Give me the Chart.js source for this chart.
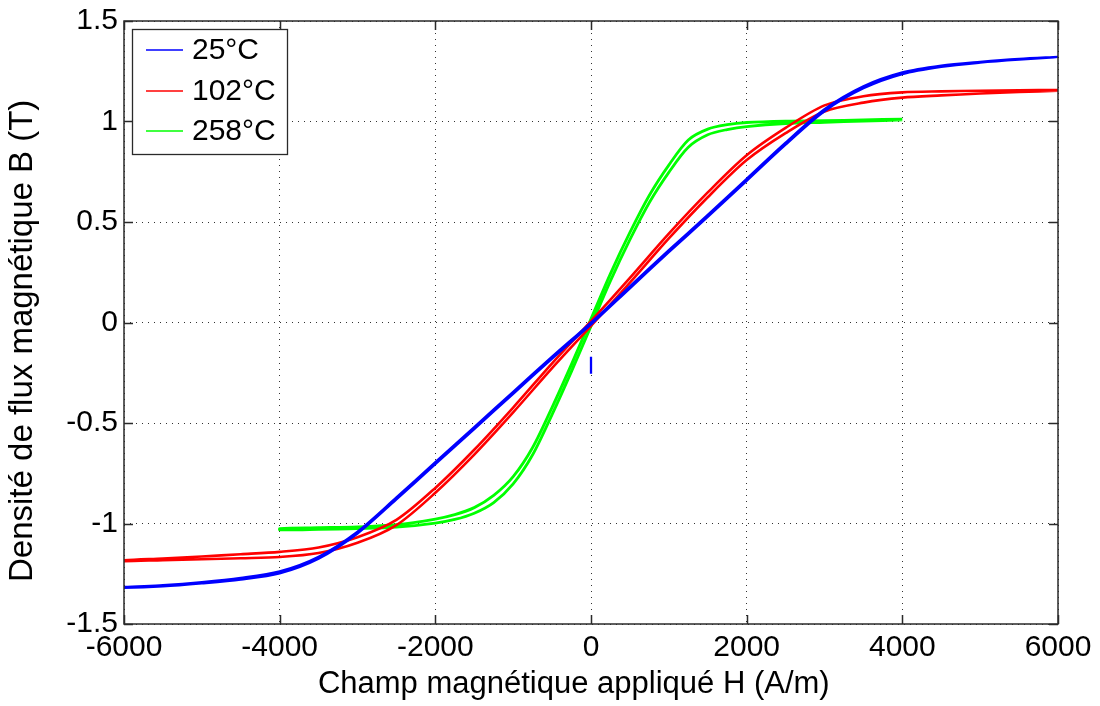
<!DOCTYPE html>
<html>
<head>
<meta charset="utf-8">
<script src="https://cdn.jsdelivr.net/npm/chart.js@4.4.1/dist/chart.umd.min.js"></script>
<style>
html,body{margin:0;padding:0;background:#fff;overflow:hidden;}
canvas{display:block;}
</style>
</head>
<body>
<canvas id="c" width="1100" height="706"></canvas>
<script>
// ---------- data ----------
const seriesLabels = ['25°C', '102°C', '258°C'];
const seriesColors = ['#0000ff', '#ff0000', '#00ff00'];

const xTickValues = [-6000, -4000, -2000, 0, 2000, 4000, 6000];
const yTickValues = [-1.5, -1, -0.5, 0, 0.5, 1, 1.5];

// 25°C
const H25 = [-6000,-5500,-5000,-4500,-4000,-3500,-3000,-2500,-2000,-1500,-1000,-500,0,500,1000,1500,2000,2500,3000,3500,4000,4500,5000,5500,6000];
const B25down = [-1.316,-1.307,-1.292,-1.271,-1.238,-1.165,-1.040,-0.870,-0.695,-0.520,-0.345,-0.170,0.000,0.180,0.360,0.535,0.715,0.895,1.061,1.175,1.244,1.278,1.297,1.312,1.322];
const B25up   = [-1.320,-1.313,-1.298,-1.279,-1.248,-1.175,-1.050,-0.880,-0.705,-0.530,-0.355,-0.180,-0.010,0.170,0.350,0.525,0.705,0.885,1.051,1.165,1.236,1.272,1.293,1.308,1.320];
const H25spike = [0, 0];
const B25spike = [-0.17, -0.255];

// 102°C
const H102 = [-6000,-5500,-5000,-4500,-4000,-3500,-3000,-2500,-2000,-1500,-1000,-500,0,500,1000,1500,2000,2500,3000,3500,4000,4500,5000,5500,6000];
const B102down = [-1.183,-1.174,-1.164,-1.153,-1.141,-1.119,-1.068,-0.982,-0.823,-0.633,-0.423,-0.203,0.007,0.222,0.442,0.647,0.832,0.968,1.080,1.126,1.145,1.150,1.153,1.155,1.157];
const B102up   = [-1.187,-1.182,-1.178,-1.173,-1.167,-1.147,-1.096,-1.008,-0.847,-0.657,-0.447,-0.227,-0.017,0.198,0.418,0.623,0.808,0.942,1.050,1.094,1.119,1.130,1.139,1.147,1.153];

// 258°C
const H258 = [-4000,-3500,-3000,-2500,-2000,-1750,-1500,-1250,-1000,-750,-500,-250,0,250,500,750,1000,1250,1500,1750,2000,2500,3000,3500,4000];
const B258down = [-1.025,-1.021,-1.017,-1.006,-0.978,-0.956,-0.921,-0.860,-0.767,-0.622,-0.422,-0.207,0.018,0.243,0.448,0.633,0.783,0.908,0.962,0.984,0.995,1.002,1.004,1.008,1.012];
const B258up   = [-1.031,-1.029,-1.025,-1.018,-0.998,-0.980,-0.949,-0.896,-0.803,-0.658,-0.458,-0.243,-0.018,0.207,0.412,0.597,0.747,0.872,0.934,0.960,0.975,0.990,0.996,1.002,1.008];

const xTitle = 'Champ magnétique appliqué H (A/m)';
const yTitle = 'Densité de flux magnétique B (T)';

// ---------- build loops ----------
function loop(H, down, up) {
  const pts = [];
  for (let i = H.length - 1; i >= 0; i--) pts.push({x: H[i], y: down[i]});
  for (let i = 0; i < H.length; i++) pts.push({x: H[i], y: up[i]});
  return pts;
}
const d25 = loop(H25, B25down, B25up);
d25.push({x: 0, y: null});
for (let i = 0; i < H25spike.length; i++) d25.push({x: H25spike[i], y: B25spike[i]});

const FONT = '"Liberation Sans", Arial, Helvetica, sans-serif';
const AX = '#2a2a2a';

const boxPlugin = {
  id: 'matlabBox',
  afterDraw(chart) {
    const {ctx, chartArea: a, scales} = chart;
    ctx.save();
    // inward ticks
    ctx.strokeStyle = AX;
    ctx.lineWidth = 1.5;
    const tl = 9;
    ctx.beginPath();
    xTickValues.forEach(v => {
      const px = Math.round(scales.x.getPixelForValue(v)) + 0.5;
      ctx.moveTo(px, a.bottom); ctx.lineTo(px, a.bottom - tl);
      ctx.moveTo(px, a.top); ctx.lineTo(px, a.top + tl);
    });
    yTickValues.forEach(v => {
      const py = Math.round(scales.y.getPixelForValue(v)) + 0.5;
      ctx.moveTo(a.left, py); ctx.lineTo(a.left + tl, py);
      ctx.moveTo(a.right, py); ctx.lineTo(a.right - tl, py);
    });
    ctx.stroke();
    // box
    ctx.strokeRect(a.left, a.top, a.right - a.left, a.bottom - a.top);

    // legend box
    const lx = a.left + 8, ly = a.top + 8, lw = 155, lh = 125;
    ctx.fillStyle = '#fff';
    ctx.fillRect(lx, ly, lw, lh);
    ctx.lineWidth = 1.3;
    ctx.strokeStyle = AX;
    ctx.strokeRect(lx + 0.5, ly + 0.5, lw, lh);
    const rows = [21, 62, 102];
    ctx.font = '30px ' + FONT;
    ctx.textBaseline = 'middle';
    ctx.textAlign = 'left';
    chart.data.datasets.forEach((ds, i) => {
      const y = ly + rows[i];
      ctx.strokeStyle = ds.borderColor;
      ctx.lineWidth = 1.5;
      ctx.beginPath();
      ctx.moveTo(lx + 14, y); ctx.lineTo(lx + 51, y);
      ctx.stroke();
      ctx.fillStyle = '#000';
      ctx.fillText(ds.label, lx + 60, y + 1);
    });
    ctx.restore();
  }
};

new Chart(document.getElementById('c'), {
  type: 'line',
  data: {
    datasets: [
      {label: seriesLabels[0], data: d25, borderColor: seriesColors[0], borderWidth: 2.3},
      {label: seriesLabels[1], data: loop(H102, B102down, B102up), borderColor: seriesColors[1], borderWidth: 2.6},
      {label: seriesLabels[2], data: loop(H258, B258down, B258up), borderColor: seriesColors[2], borderWidth: 2.8}
    ]
  },
  options: {
    responsive: false,
    animation: false,
    events: [],
    layout: {padding: {left: 0, top: 21, right: 42, bottom: 0}},
    elements: {point: {radius: 0}, line: {tension: 0.3, fill: false}},
    plugins: {legend: {display: false}, tooltip: {enabled: false}},
    scales: {
      x: {
        type: 'linear', min: -6000, max: 6000,
        afterBuildTicks: s => { s.ticks = xTickValues.map(v => ({value: v})); },
        afterFit: s => { s.height = 82; },
        ticks: {callback: v => String(v), color: '#000', font: {family: FONT, size: 30}, padding: 6, maxRotation: 0, autoSkip: false},
        grid: {color: '#333', lineWidth: 1, drawTicks: false},
        border: {display: false, dash: [1, 5]},
        title: {display: true, text: xTitle + '    ', color: '#000', font: {family: FONT, size: 31}, padding: {top: 0, bottom: 3}}
      },
      y: {
        type: 'linear', min: -1.5, max: 1.5,
        afterBuildTicks: s => { s.ticks = yTickValues.map(v => ({value: v})); },
        afterFit: s => { s.width = 124; },
        ticks: {callback: v => String(v), color: '#000', font: {family: FONT, size: 30, lineHeight: 0.9}, padding: 6, autoSkip: false},
        grid: {color: '#333', lineWidth: 1, drawTicks: false},
        border: {display: false, dash: [1, 5]},
        title: {display: true, text: yTitle + '    ', color: '#000', font: {family: FONT, size: 33}, padding: {top: 3, bottom: 0}}
      }
    }
  },
  plugins: [boxPlugin]
});
</script>
</body>
</html>
